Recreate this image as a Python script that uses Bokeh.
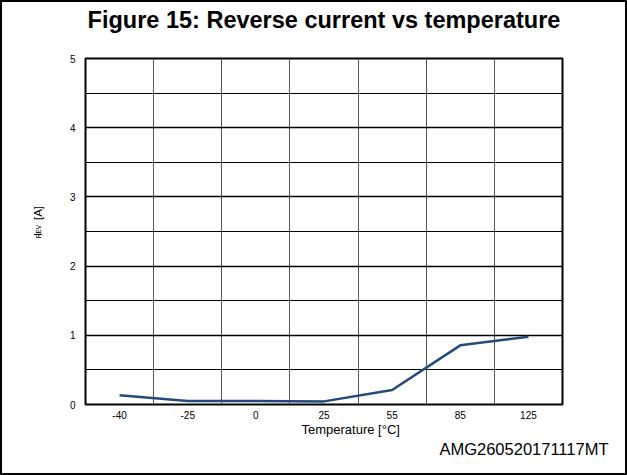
import math
from bokeh.plotting import figure
from bokeh.models import (FactorRange, Range1d, FixedTicker, Title, LinearAxis,
                          InlineStyleSheet)
from bokeh.embed import file_html
from bokeh.resources import INLINE

# ---- data ----
temperatures = ["-40", "-25", "0", "25", "55", "85", "125"]
i_rev = [0.135, 0.05, 0.05, 0.045, 0.21, 0.855, 0.98]
y_major_ticks = [0, 1, 2, 3, 4, 5]
y_minor_ticks = [0.5, 1.5, 2.5, 3.5, 4.5]
x_boundaries = [0, 1, 2, 3, 4, 5, 6, 7]

title_text = "Figure 15: Reverse current vs temperature"
x_label = "Temperature  [°C]"
code_text = "AMG260520171117MT"

W, H = 627, 475
FONT = "Liberation Sans"

p = figure(width=W, height=H, output_backend="svg", toolbar_location=None,
           x_range=FactorRange(*temperatures, range_padding=0),
           y_range=Range1d(0, 5),
           min_border_left=85, min_border_right=65,
           min_border_top=58, min_border_bottom=71)
p.title = None
p.background_fill_color = "white"
p.border_fill_color = None
p.outline_line_color = "black"
p.outline_line_width = 2
p.stylesheets = [InlineStyleSheet(css=":host { box-shadow: inset 0 0 0 2px black; background: white; }")]

# axes
for ax in (p.xaxis[0], p.yaxis[0]):
    ax.axis_line_color = None
    ax.major_tick_line_color = None
    ax.minor_tick_line_color = None
    ax.major_tick_out = 0
    ax.major_tick_in = 0
    ax.minor_tick_out = 0
    ax.major_label_text_font = FONT
    ax.major_label_text_font_size = "10px"
    ax.major_label_text_color = "black"
p.yaxis.ticker = FixedTicker(ticks=y_major_ticks, minor_ticks=y_minor_ticks)
p.yaxis.major_label_standoff = 10
p.xaxis.major_label_standoff = 6

# grids
p.ygrid.grid_line_color = "black"
p.ygrid.grid_line_width = 1.5
p.ygrid.minor_grid_line_color = "black"
p.ygrid.minor_grid_line_width = 1
p.xgrid.ticker = FixedTicker(ticks=x_boundaries)
p.xgrid.grid_line_color = "#555555"
p.xgrid.grid_line_width = 1

p.line(x=temperatures, y=i_rev, line_color="#234a7c", line_width=2.5)

# ---- title: label of an otherwise empty axis above ----
title_axis = LinearAxis(ticker=FixedTicker(ticks=[0], minor_ticks=[]),
                        major_label_overrides={0: " "}, bounds=(0, 6.81),
                        axis_line_color=None, major_tick_line_color=None,
                        minor_tick_line_color=None, major_tick_out=0, major_tick_in=0,
                        minor_tick_out=0, major_label_standoff=0,
                        major_label_text_font_size="1px",
                        axis_label=title_text, axis_label_standoff=21,
                        axis_label_text_font=FONT, axis_label_text_font_style="bold",
                        axis_label_text_font_size="23.5px", axis_label_text_color="black")
p.add_layout(title_axis, "above")

# ---- x label and code (below) ----
p.add_layout(Title(text=x_label, align="left", offset=216, vertical_align="top",
                   standoff=0, text_font=FONT, text_font_style="normal",
                   text_font_size="13px", text_color="black"), "below")
p.add_layout(Title(text=code_text, align="right", offset=-46, vertical_align="top",
                   standoff=2, text_font=FONT, text_font_style="normal",
                   text_font_size="16.5px", text_color="black"), "below")

# ---- y label  I_REV [A]  (extra axis: "I" and "[A]" as labels, "REV" as axis label) ----
lbl_ticks = [2.4566, 2.7673]
p.extra_y_ranges = {"lbl": Range1d(0, 5)}
lab_axis = LinearAxis(y_range_name="lbl",
                      ticker=FixedTicker(ticks=lbl_ticks, minor_ticks=[]),
                      major_label_overrides={lbl_ticks[0]: "I", lbl_ticks[1]: "[A]"},
                      major_label_orientation="vertical",
                      bounds=(2.3895, 2.7695),
                      axis_line_color=None, major_tick_line_color=None,
                      minor_tick_line_color=None, major_tick_out=0, major_tick_in=0,
                      minor_tick_out=0, major_label_standoff=22,
                      major_label_text_font=FONT, major_label_text_font_size="11.5px",
                      major_label_text_color="black",
                      axis_label="REV", axis_label_standoff=-12,
                      axis_label_text_font=FONT, axis_label_text_font_size="6.5px",
                      axis_label_text_font_style="normal", axis_label_text_color="black")
p.add_layout(lab_axis, "left")

open("out.html", "w").write(file_html(p, INLINE))
